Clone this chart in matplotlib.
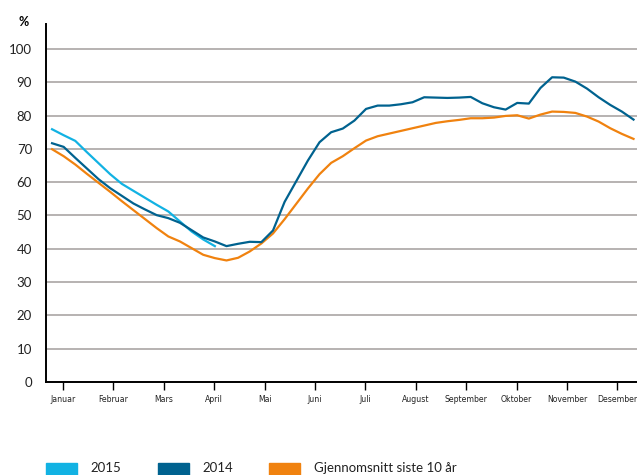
import matplotlib
matplotlib.use("Agg")
import matplotlib.pyplot as plt
import numpy as np
from matplotlib.patches import Rectangle

# Fyllingsgrad (%) per uke
weeks = np.arange(1, 52)

fill_2015 = [75.9, 74.1, 72.4, 69.0, 65.7, 62.4, 59.5, 57.4, 55.3, 53.2,
             51.2, 48.2, 45.2, 42.8, 40.8]

fill_2014 = [71.7, 70.6, 67.3, 64.1, 60.9, 58.2, 55.9, 53.6, 51.8, 50.1,
             49.2, 47.8, 45.6, 43.4, 42.2, 40.8, 41.5, 42.1, 42.0, 45.5,
             54.1, 60.3, 66.5, 72.0, 75.0, 76.1, 78.5, 82.0, 83.0, 83.0,
             83.4, 84.0, 85.5, 85.4, 85.3, 85.4, 85.6, 83.7, 82.5, 81.8,
             83.8, 83.6, 88.3, 91.5, 91.4, 90.2, 88.1, 85.5, 83.2, 81.2,
             78.8]

fill_avg = [69.9, 67.8, 65.3, 62.5, 59.8, 57.1, 54.3, 51.6, 48.9, 46.2,
            43.7, 42.2, 40.2, 38.2, 37.2, 36.5, 37.3, 39.2, 41.6, 44.6,
            48.9, 53.5, 58.1, 62.4, 65.8, 67.8, 70.2, 72.5, 73.8, 74.6,
            75.4, 76.2, 77.0, 77.8, 78.3, 78.7, 79.2, 79.2, 79.4, 79.9,
            80.1, 79.1, 80.3, 81.2, 81.1, 80.8, 79.7, 78.2, 76.2, 74.5,
            73.0]

months = ["Januar", "Februar", "Mars", "April", "Mai", "Juni", "Juli",
          "August", "September", "Oktober", "November", "Desember"]

c_2015 = "#12b2e3"
c_2014 = "#00628f"
c_avg = "#f0820f"
grid_c = "#a39e9c"

plt.rcParams["font.family"] = ["Lato", "DejaVu Sans"]

fig = plt.figure(figsize=(6.37, 4.75), dpi=100)
ax = fig.add_axes([46 / 637, 93 / 475, 591 / 637, 358 / 475])

ax.plot(weeks[:len(fill_2015)], fill_2015, color=c_2015, lw=1.6, zorder=3)
ax.plot(weeks, fill_2014, color=c_2014, lw=1.6, zorder=4)
ax.plot(weeks, fill_avg, color=c_avg, lw=1.6, zorder=2)

ax.set_xlim(0.48, 51.3)
ax.set_ylim(0, 107.5)

ax.set_yticks(np.arange(0, 101, 10))
ax.yaxis.grid(True, color=grid_c, lw=1.1)
ax.set_axisbelow(True)
ax.tick_params(axis="y", length=0, pad=10, labelsize=9.5, labelcolor="#222222")

month_pos = 1.95 + np.arange(12) * 52 / 12
ax.set_xticks(month_pos)
ax.set_xticklabels(months, family="DejaVu Sans", stretch="condensed",
                   fontsize=6.2, color="#222222")
ax.tick_params(axis="x", direction="out", length=6, width=1, color="black", pad=3)

for s in ["top", "right"]:
    ax.spines[s].set_visible(False)
ax.spines["left"].set_linewidth(1.4)
ax.spines["bottom"].set_linewidth(1.4)

fig.text(24 / 637, 1 - 22 / 475, "%", ha="center", va="center",
         fontsize=9, fontweight="bold")

# legend along the bottom edge
legend_items = [("2015", c_2015, 46, 90), ("2014", c_2014, 158, 202),
                ("Gjennomsnitt siste 10 år", c_avg, 269, 314)]
for label, col, bx, tx in legend_items:
    fig.patches.append(Rectangle((bx / 637, 0), 31 / 637, 12 / 475,
                                 transform=fig.transFigure, color=col))
    fig.text(tx / 637, 7 / 475, label, ha="left", va="center",
             fontsize=9.5, color="#222222")

fig.savefig("out.png", dpi=100)
